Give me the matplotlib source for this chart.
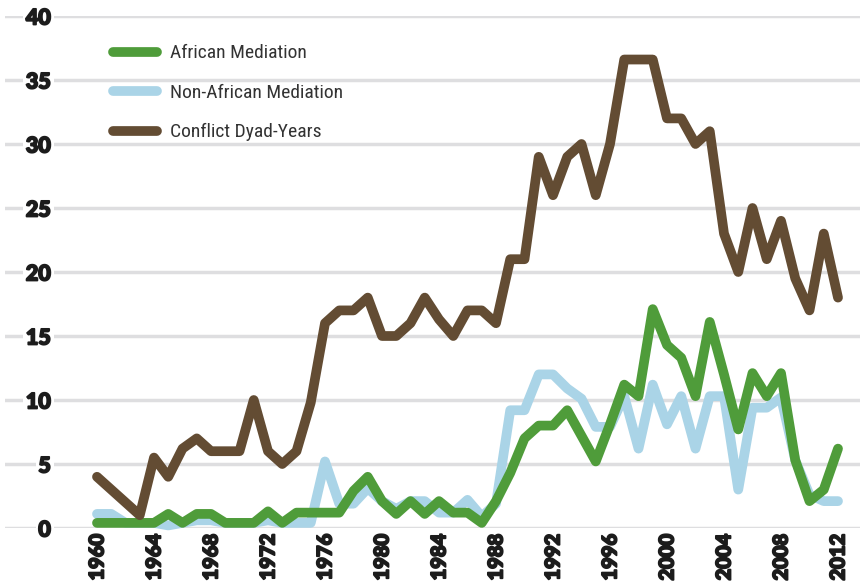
import numpy as np
import matplotlib
matplotlib.use("Agg")
import matplotlib.pyplot as plt
import matplotlib.patheffects as pe

# data
years = np.arange(1960, 2013)

african = [0.4, 0.4, 0.4, 0.4, 0.4, 1.1, 0.4, 1.1, 1.1, 0.4,
           0.4, 0.4, 1.3, 0.4, 1.2, 1.2, 1.2, 1.2, 2.9, 4.0,
           2.1, 1.1, 2.1, 1.1, 2.1, 1.2, 1.2, 0.4, 2.1, 4.3,
           7.0, 8.0, 8.0, 9.2, 7.2, 5.2, 8.1, 11.2, 10.3, 17.1,
           14.3, 13.3, 10.3, 16.1, 12.0, 7.7, 12.1, 10.3, 12.1, 5.3,
           2.1, 3.0, 6.2]

non_african = [1.1, 1.1, 0.4, 0.4, 0.4, 0.2, 0.4, 0.6, 0.6, 0.4,
               0.4, 0.4, 0.6, 0.4, 0.4, 0.4, 5.2, 1.9, 1.9, 3.1,
               2.1, 1.5, 2.1, 2.1, 1.2, 1.2, 2.2, 0.9, 1.9, 9.2,
               9.2, 12.0, 12.0, 10.9, 10.1, 7.9, 7.9, 10.3, 6.2, 11.2,
               8.1, 10.3, 6.2, 10.3, 10.3, 3.0, 9.4, 9.4, 10.2, 5.3,
               2.6, 2.1, 2.1]

conflict = [4, 3, 2, 1, 5.5, 4, 6.2, 7, 6, 6,
            6, 10, 6, 5, 6, 9.8, 16, 17, 17, 18,
            15, 15, 16, 18, 16.3, 15, 17, 17, 16, 21,
            21, 29, 26, 29, 30, 26, 30, 36.6, 36.6, 36.6,
            32, 32, 30, 31, 23, 20, 25, 21, 24, 19.5,
            17, 23, 18]

labels = ['African Mediation', 'Non-African Mediation', 'Conflict Dyad-Years']
colors = ['#4f9c3a', '#aad4e7', '#634c33']
xticks = list(range(1960, 2013, 4))
yticks = list(range(0, 41, 5))

heavy = ['Lato', 'Roboto', 'DejaVu Sans']
narrow = ['Liberation Sans Narrow', 'Roboto Condensed', 'DejaVu Sans Condensed',
          'Open Sans Condensed', 'DejaVu Sans']

fig = plt.figure(figsize=(8.6, 5.86), dpi=100)
ax = fig.add_axes([5 / 860, 58 / 586, 855 / 860, 512 / 586])

style = dict(linewidth=7, solid_joinstyle='round', solid_capstyle='round', clip_on=False)
l2, = ax.plot(years, non_african, color=colors[1], zorder=2, **style)
l1, = ax.plot(years, african, color=colors[0], zorder=3, **style)
l3, = ax.plot(years, conflict, color=colors[2], zorder=4, **style)

ax.set_xlim(1960 - 92 / 14.25, 2012 + 22 / 14.25)
ax.set_ylim(0, 40)
ax.set_yticks(yticks)
ax.set_xticks(xticks)
ax.grid(axis='y', color='#dedee0', linewidth=2.5)
ax.set_axisbelow(True)
for s in ax.spines.values():
    s.set_visible(False)

ax.tick_params(axis='y', length=0, pad=-33, labelsize=15.5, labelcolor='#1c1c1c')
ax.tick_params(axis='x', length=0, pad=4, labelsize=14.5, labelcolor='#1c1c1c', labelrotation=90)
thick = [pe.withStroke(linewidth=1.3, foreground='#1c1c1c')]
for t in ax.get_yticklabels():
    t.set_fontfamily(heavy)
    t.set_fontweight('black')
    t.set_path_effects(thick)
    t.set_bbox(dict(facecolor='white', edgecolor='none', pad=2))
for t in ax.get_xticklabels():
    t.set_fontfamily(heavy)
    t.set_fontweight('black')
    t.set_path_effects(thick)

leg = ax.legend([l1, l2, l3], labels, loc='upper left', bbox_to_anchor=(95 / 860, 1 - 27 / 586),
                bbox_transform=fig.transFigure, frameon=False, handlelength=2.3,
                handletextpad=0.65, labelspacing=1.1,
                prop={'family': narrow, 'size': 14})
for t in leg.get_texts():
    t.set_color('#333333')

fig.savefig('out.png', dpi=100)
